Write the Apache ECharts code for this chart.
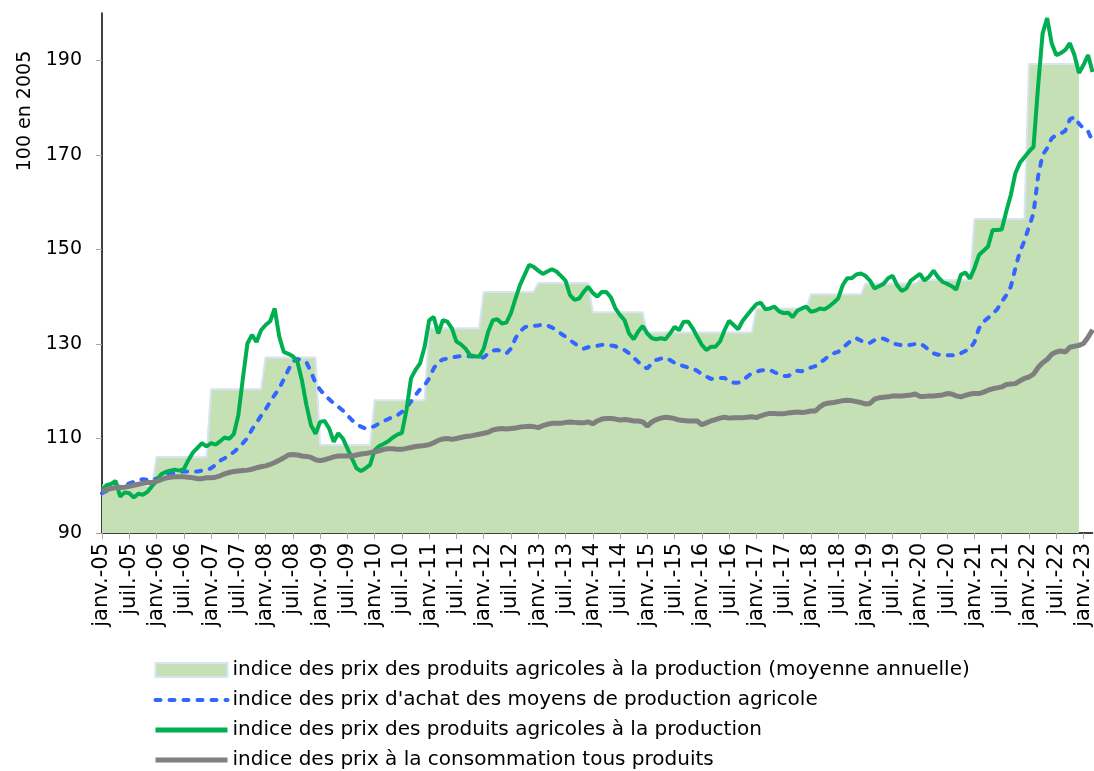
<!DOCTYPE html>
<html>
<head>
<meta charset="utf-8">
<script src="https://cdn.jsdelivr.net/npm/echarts@6/dist/echarts.min.js"></script>
<style>
  * { margin: 0; padding: 0; }
  body { background: #fff; }
  #chart { width: 1094px; height: 771px; }
</style>
</head>
<body>
<div id="chart"></div>
<script>
// mois affichés sur l'axe (janv.-05 ... mars-23)
const monthNames = ['janv.', 'févr.', 'mars', 'avr.', 'mai', 'juin', 'juil.', 'août', 'sept.', 'oct.', 'nov.', 'déc.']
const firstYear = 2005
const monthCount = 219

// moyenne annuelle de l'indice des prix des produits agricoles (2005 ... 2022)
const annualAvg = [100.0, 106.1, 120.4, 127.1, 108.6, 118.1, 133.3, 141.0, 142.9, 136.7, 132.4, 132.4, 137.5, 140.5, 142.8, 143.5, 156.4, 189.2]

// indice des prix d'achat des moyens de production agricole
const achat = [
  98.4, 98.9, 99.3, 99.6, 99.8, 100.1, 100.5, 100.8, 101.2, 101.4, 101.2, 101.3,
  101.5, 101.9, 102.2, 102.6, 102.7, 102.9, 103.0, 103.0, 103.0, 103.0, 103.2, 103.3,
  103.7, 104.4, 105.3, 105.8, 106.5, 107.1, 108.0, 109.0, 110.1, 111.9, 113.3, 114.8,
  116.1, 117.8, 119.2, 120.6, 122.5, 124.5, 126.3, 126.8, 126.6, 126.1, 124.1, 121.7,
  120.3, 119.2, 118.3, 117.4, 116.7, 115.9, 114.9, 113.9, 113.0, 112.5, 112.1, 112.3,
  112.6, 113.2, 113.7, 114.1, 114.6, 114.9, 115.6, 116.6, 117.8, 119.2, 120.4, 121.3,
  122.7, 124.8, 126.2, 126.7, 126.9, 127.1, 127.3, 127.4, 127.4, 127.4, 127.3, 127.1,
  127.1, 128.0, 128.6, 128.7, 128.5, 128.0, 129.0, 131.2, 132.6, 133.5, 133.8, 133.8,
  133.9, 134.1, 133.9, 133.5, 132.9, 132.2, 131.5, 130.8, 130.1, 129.4, 129.0, 129.3,
  129.5, 129.6, 129.8, 129.8, 129.7, 129.5, 129.0, 128.7, 128.0, 127.1, 126.2, 125.3,
  124.8, 125.9, 126.6, 126.9, 127.1, 126.6, 126.0, 125.6, 125.3, 125.0, 124.8, 124.3,
  123.6, 123.1, 122.6, 122.7, 122.8, 122.8, 122.1, 121.8, 121.8, 122.2, 123.1, 123.8,
  124.1, 124.4, 124.5, 124.5, 124.0, 123.6, 123.2, 123.2, 123.8, 124.3, 124.2, 124.6,
  125.0, 125.3, 126.0, 126.7, 127.5, 128.0, 128.3, 129.1, 130.0, 130.8, 131.2, 130.7,
  130.2, 130.2, 130.8, 131.2, 131.1, 130.7, 130.1, 129.9, 129.7, 129.7, 129.8, 130.0,
  130.1, 129.5, 128.7, 128.0, 127.7, 127.6, 127.6, 127.6, 127.6, 128.0, 128.5, 129.0,
  130.4, 133.3, 134.7, 135.5, 136.4, 137.3, 138.9, 140.3, 142.1, 146.0, 149.5, 151.8,
  154.8, 157.6, 165.4, 170.0, 171.4, 173.5, 174.2, 174.5, 175.1, 177.5, 178.0, 176.6,
  175.6, 175.0, 172.8
]

// indice des prix des produits agricoles à la production
const production = [
  99.2, 100.1, 100.4, 101.0, 97.7, 98.6, 98.4, 97.5, 98.3, 98.1, 98.7, 99.9,
  101.0, 102.4, 102.9, 103.2, 103.4, 103.2, 103.5, 105.4, 107.0, 108.0, 109.0, 108.3,
  109.0, 108.7, 109.4, 110.2, 109.9, 110.9, 114.9, 122.7, 130.1, 131.9, 130.4, 132.9,
  134.0, 134.8, 137.5, 131.6, 128.3, 127.9, 127.4, 126.2, 122.3, 117.0, 112.8, 111.0,
  113.5, 113.7, 112.1, 109.3, 111.1, 110.0, 107.9, 105.8, 103.7, 103.1, 103.7, 104.4,
  107.5, 108.4, 108.9, 109.4, 110.2, 110.8, 111.2, 116.0, 122.7, 124.5, 125.9, 129.4,
  135.0, 135.7, 132.2, 135.0, 134.7, 133.3, 130.5, 129.9, 129.0, 127.6, 127.4, 127.3,
  129.0, 132.6, 135.0, 135.2, 134.3, 134.5, 136.5, 139.6, 142.5, 144.6, 146.7, 146.3,
  145.5, 144.8, 145.3, 145.8, 145.3, 144.4, 143.4, 140.3, 139.3, 139.6, 141.0, 142.1,
  140.8, 140.0, 141.0, 141.0, 139.8, 137.5, 136.1, 135.0, 132.2, 131.0, 132.6, 133.8,
  132.2, 131.2, 131.0, 131.2, 131.0, 132.2, 133.6, 132.9, 134.7, 134.7, 133.3, 131.5,
  129.8, 128.7, 129.4, 129.4, 130.5, 132.9, 134.9, 134.0, 133.1, 134.9, 136.1, 137.3,
  138.4, 138.7, 137.3, 137.5, 137.9, 136.9, 136.5, 136.6, 135.7, 137.0, 137.5, 137.9,
  136.8, 137.0, 137.5, 137.3, 137.9, 138.7, 139.6, 142.4, 143.9, 143.9, 144.7, 144.9,
  144.4, 143.4, 141.7, 142.2, 142.7, 143.9, 144.4, 142.4, 141.2, 141.7, 143.4, 144.1,
  144.8, 143.4, 144.2, 145.5, 144.1, 143.1, 142.7, 142.2, 141.5, 144.6, 145.1, 143.8,
  146.0, 148.8, 149.7, 150.6, 154.1, 154.1, 154.2, 158.0, 161.5, 166.1, 168.3, 169.5,
  170.7, 171.7, 184.4, 195.7, 198.9, 193.6, 191.1, 191.5, 192.2, 193.6, 191.1, 187.3,
  189.0, 191.1, 187.5
]

// indice des prix à la consommation tous produits
const consommation = [
  98.7, 99.2, 99.4, 99.6, 99.6, 99.7, 99.9, 100.1, 100.3, 100.5, 100.7, 100.7,
  100.9, 101.3, 101.6, 101.8, 101.9, 101.9, 101.9, 101.8, 101.7, 101.5, 101.5, 101.7,
  101.7, 101.8, 102.1, 102.5, 102.8, 103.0, 103.1, 103.2, 103.3, 103.5, 103.8, 104.0,
  104.2, 104.5, 104.9, 105.4, 105.9, 106.5, 106.6, 106.5, 106.3, 106.2, 106.0, 105.5,
  105.3, 105.5, 105.8, 106.1, 106.3, 106.3, 106.3, 106.3, 106.5, 106.7, 106.8, 107.0,
  107.2, 107.4, 107.7, 107.8, 107.8, 107.7, 107.7, 107.9, 108.1, 108.3, 108.4, 108.5,
  108.7, 109.1, 109.6, 109.9, 110.0, 109.8, 110.0, 110.2, 110.4, 110.5, 110.7, 110.9,
  111.1, 111.3, 111.8, 112.0, 112.1, 112.0, 112.1, 112.2, 112.4, 112.5, 112.6, 112.5,
  112.3, 112.7, 113.0, 113.2, 113.2, 113.2, 113.4, 113.5, 113.4, 113.3, 113.3, 113.5,
  113.1, 113.7, 114.1, 114.2, 114.2, 114.1, 113.9, 114.0, 113.9, 113.7, 113.7, 113.5,
  112.6, 113.5, 114.0, 114.3, 114.5, 114.4, 114.2, 113.9, 113.8, 113.7, 113.7, 113.7,
  112.9, 113.3, 113.7, 114.0, 114.3, 114.5, 114.3, 114.4, 114.4, 114.4, 114.5, 114.6,
  114.4, 114.8, 115.1, 115.3, 115.3, 115.2, 115.2, 115.4, 115.5, 115.6, 115.5, 115.6,
  115.8, 115.8, 116.7, 117.3, 117.5, 117.6, 117.8, 118.0, 118.1, 118.0, 117.8, 117.6,
  117.3, 117.4, 118.3, 118.6, 118.7, 118.8, 119.0, 119.0, 119.0, 119.1, 119.2, 119.4,
  118.9, 118.9, 119.0, 119.0, 119.1, 119.2, 119.5, 119.4, 119.0, 118.8, 119.1, 119.4,
  119.5, 119.5, 119.8, 120.2, 120.5, 120.7, 120.9, 121.4, 121.5, 121.6, 122.2, 122.7,
  123.0, 123.6, 125.0, 126.0, 126.7, 127.8, 128.3, 128.5, 128.3, 129.3, 129.5, 129.7,
  130.1, 131.4, 133.0
]

const yTicks = [90, 110, 130, 150, 170, 190]

const names = [
  'indice des prix des produits agricoles à la production (moyenne annuelle)',
  "indice des prix d'achat des moyens de production agricole",
  'indice des prix des produits agricoles à la production',
  'indice des prix à la consommation tous produits'
]

const months = []
for (let i = 0; i < monthCount; i++) {
  const yy = String((firstYear + Math.floor(i / 12)) % 100).padStart(2, '0')
  months.push(monthNames[i % 12] + '-' + yy)
}
// la moyenne annuelle est répétée sur chaque mois de l'année
const annualMonthly = months.map((m, i) => {
  const v = annualAvg[Math.floor(i / 12)]
  return v === undefined ? null : v
})

const font = 'DejaVu Sans'
const chart = echarts.init(document.getElementById('chart'))
chart.setOption({
  animation: false,
  backgroundColor: '#fff',
  textStyle: { fontFamily: font },
  grid: { left: 102, right: 1, top: 13, bottom: 238 },
  legend: {
    orient: 'vertical',
    left: 153,
    top: 660,
    height: 140,
    padding: 0,
    itemWidth: 72,
    itemHeight: 14,
    itemGap: 10,
    selectedMode: false,
    textStyle: { fontSize: 20, color: '#000', fontFamily: font },
    data: [
      { name: names[0], icon: 'rect', itemStyle: { color: '#c5e0b4', borderColor: '#dae3f3', borderWidth: 2 } },
      { name: names[1], lineStyle: { width: 4 }, itemStyle: { opacity: 0 } },
      { name: names[2], lineStyle: { width: 5 }, itemStyle: { opacity: 0 } },
      { name: names[3], lineStyle: { width: 5 }, itemStyle: { opacity: 0 } }
    ]
  },
  graphic: [{
    type: 'text',
    x: 25,
    y: 111,
    rotation: Math.PI / 2,
    style: { text: '100 en 2005', fontSize: 19, fontFamily: font, fill: '#000', align: 'center', verticalAlign: 'middle' }
  }],
  xAxis: {
    type: 'category',
    data: months,
    boundaryGap: false,
    axisLine: { lineStyle: { color: '#000', width: 1.5 } },
    axisTick: { interval: 5, length: 6, lineStyle: { color: '#a6a6a6' } },
    axisLabel: { interval: 5, rotate: 90, fontSize: 21, color: '#000', margin: 10 },
    splitLine: { show: false }
  },
  yAxis: {
    type: 'value',
    min: 90,
    max: 200,
    interval: 20,
    axisLine: { show: true, lineStyle: { color: '#000', width: 1.5 } },
    axisTick: { show: true, length: 6, customValues: yTicks, lineStyle: { color: '#a6a6a6' } },
    axisLabel: { fontSize: 19, color: '#000', margin: 20, customValues: yTicks },
    splitLine: { show: false }
  },
  series: [
    {
      name: names[0],
      type: 'line',
      data: annualMonthly,
      symbol: 'none',
      lineStyle: { color: '#dae3f3', width: 2 },
      itemStyle: { color: '#c5e0b4' },
      areaStyle: { color: '#c5e0b4', opacity: 1, origin: 'start' }
    },
    {
      name: names[1],
      type: 'line',
      data: achat,
      symbol: 'none',
      itemStyle: { color: '#3366ff' },
      lineStyle: { color: '#3366ff', width: 4, type: [5, 9], cap: 'round' }
    },
    {
      name: names[2],
      type: 'line',
      data: production,
      symbol: 'none',
      itemStyle: { color: '#00b050' },
      lineStyle: { color: '#00b050', width: 4 }
    },
    {
      name: names[3],
      type: 'line',
      data: consommation,
      symbol: 'none',
      itemStyle: { color: '#7f7f7f' },
      lineStyle: { color: '#7f7f7f', width: 5 }
    }
  ]
})
</script>
</body>
</html>
